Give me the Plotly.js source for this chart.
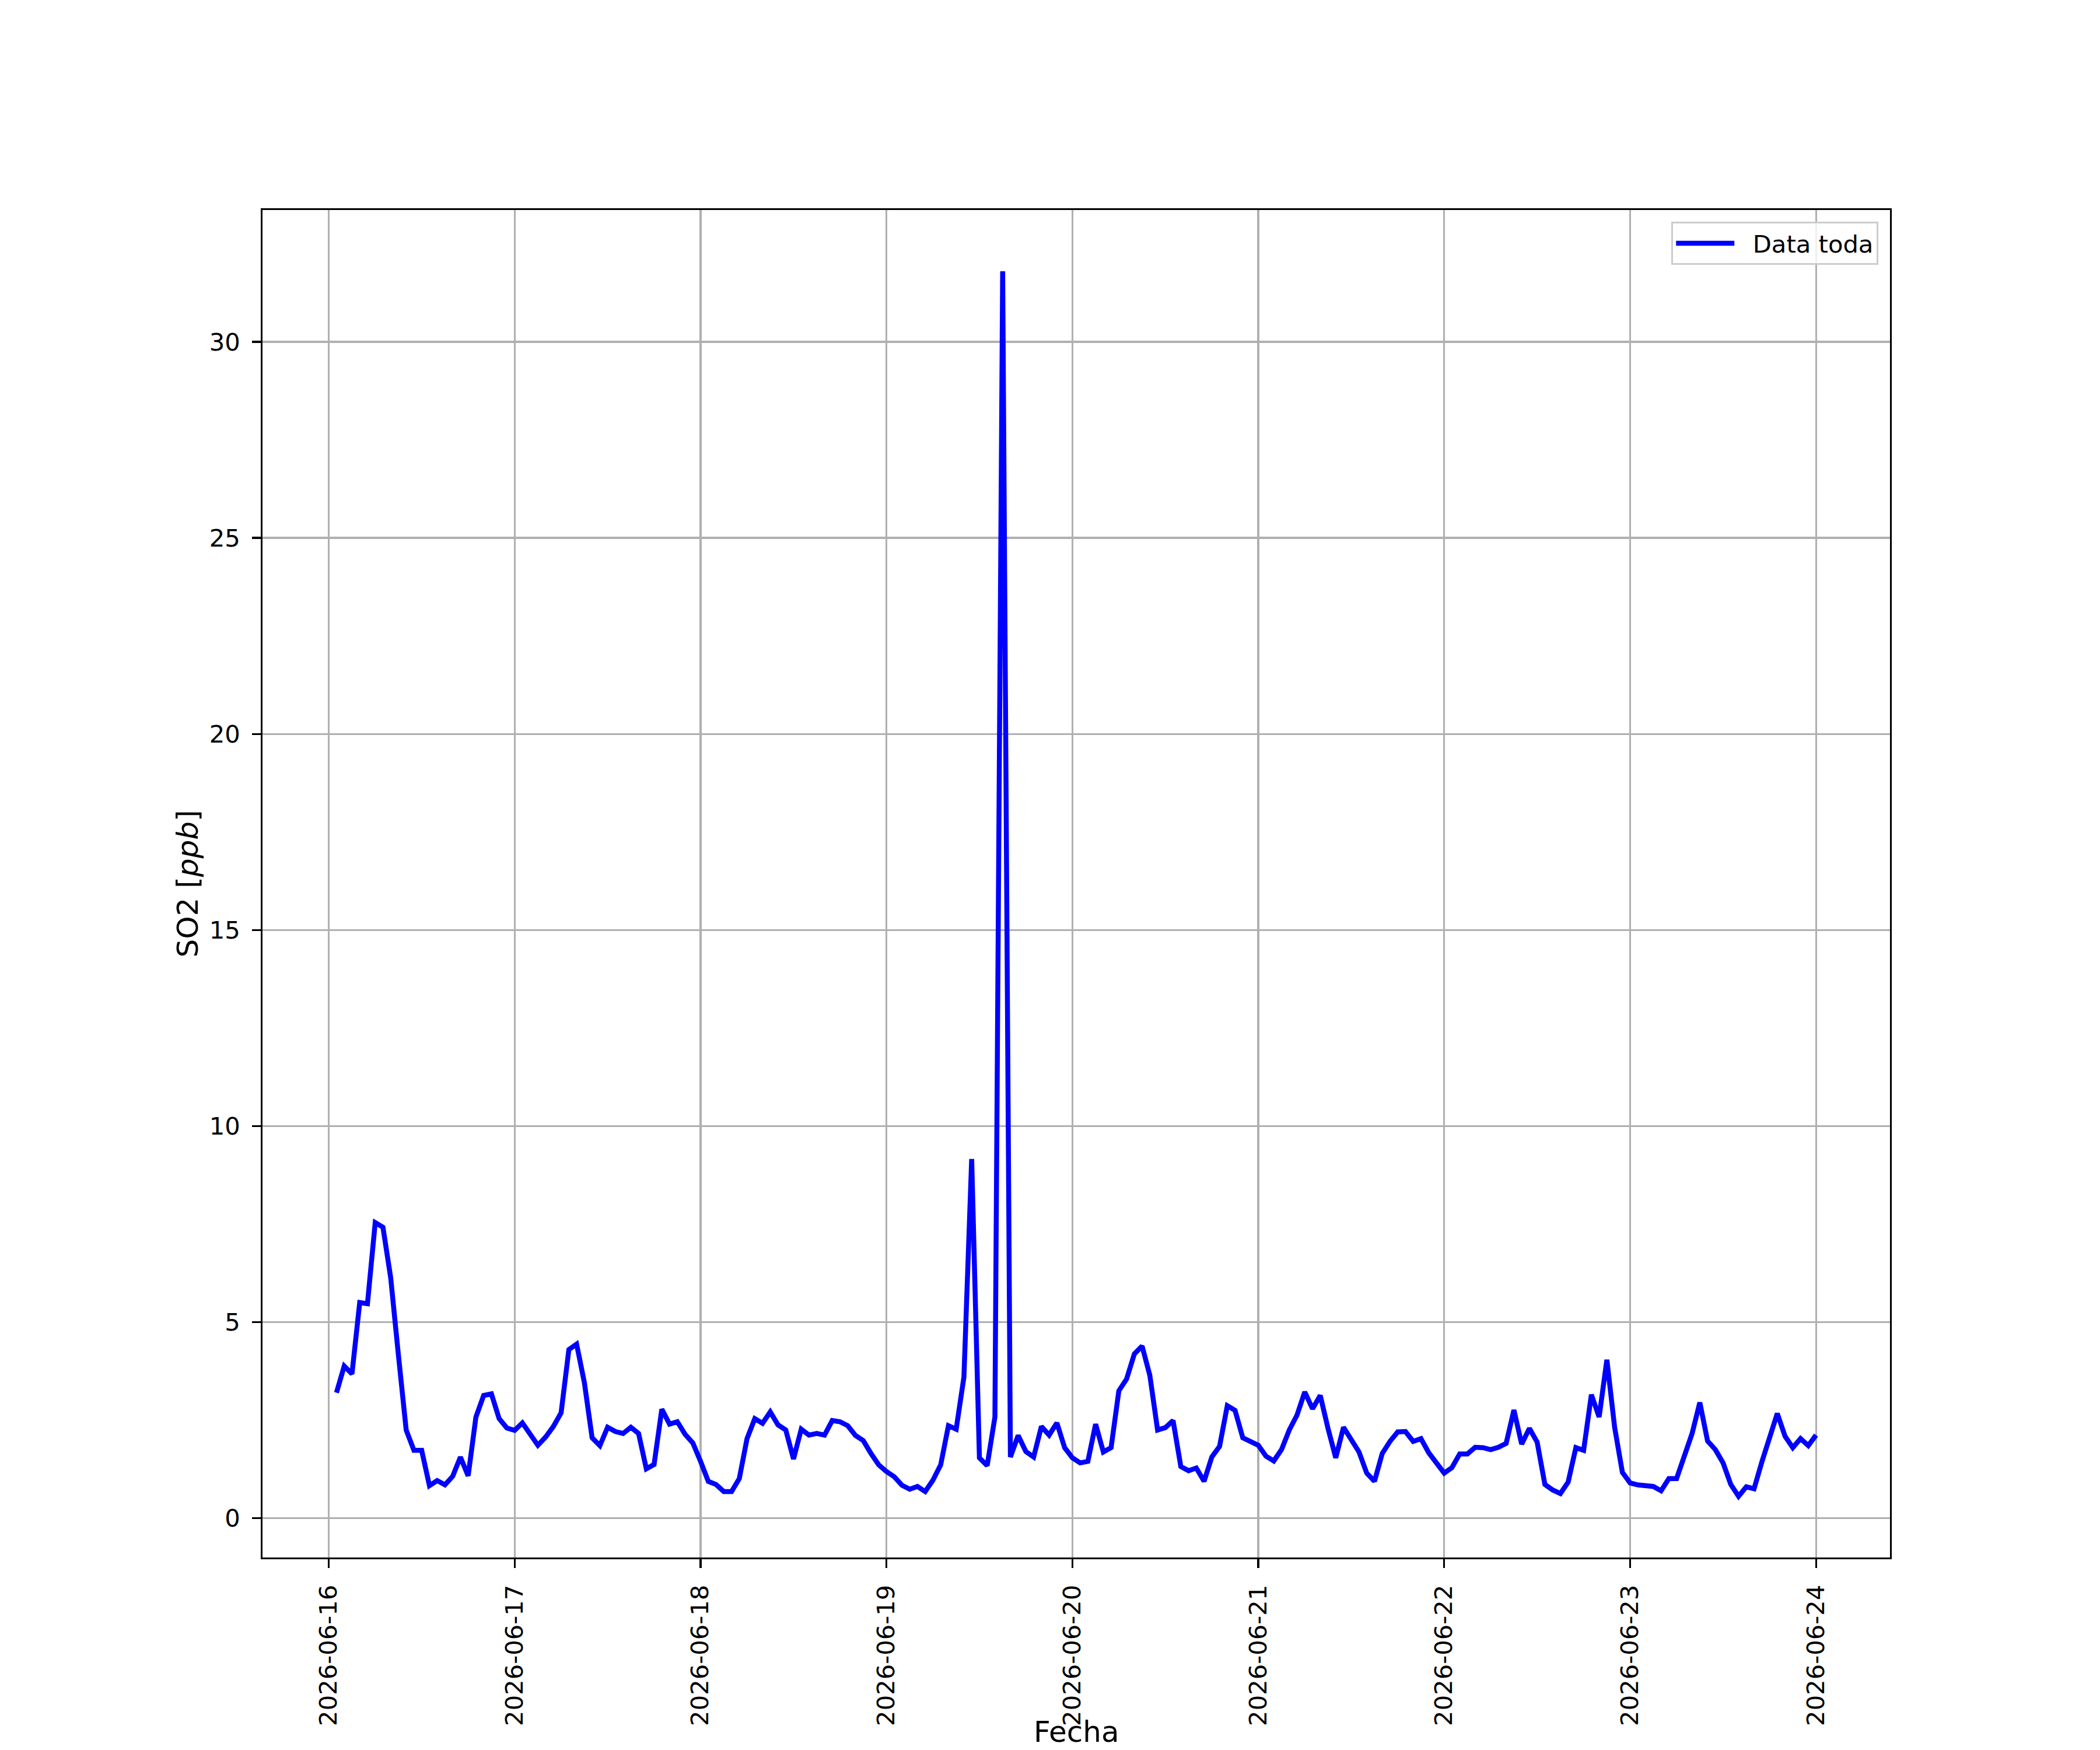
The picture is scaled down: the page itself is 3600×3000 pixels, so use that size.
<!DOCTYPE html>
<html>
<head>
<meta charset="utf-8">
<script src="https://cdn.plot.ly/plotly-3.0.1.min.js"></script>
<style>
  html, body { margin: 0; padding: 0; background: #ffffff; }
  #chart { width: 3600px; height: 3000px; }
</style>
</head>
<body>
<div id="chart"></div>
<script>
// ---- Data (hourly SO2 values, ppb) ----
const dayLabels = ['2026-06-16','2026-06-17','2026-06-18','2026-06-19','2026-06-20','2026-06-21','2026-06-22','2026-06-23','2026-06-24'];
const firstHour = 1;   // series starts 2026-06-16 01:00

const day16 = [3.20,3.88,3.68,5.50,5.47,7.54,7.42,6.13,4.15,2.25,1.73,1.73,0.83,0.96,0.85,1.07,1.56,1.08,2.58,3.13,3.17,2.54,2.30];
const day17 = [2.24,2.43,2.13,1.86,2.07,2.34,2.69,4.30,4.44,3.46,2.05,1.85,2.32,2.21,2.16,2.32,2.16,1.26,1.37,2.78,2.40,2.46,2.14,1.92];
const day18 = [1.45,0.94,0.86,0.68,0.68,1.01,2.03,2.54,2.42,2.71,2.38,2.25,1.51,2.27,2.12,2.16,2.12,2.49,2.46,2.36,2.11,1.98,1.65,1.36];
const day19 = [1.19,1.06,0.84,0.74,0.81,0.68,0.97,1.36,2.36,2.27,3.60,9.16,1.54,1.34,2.58,31.80,1.56,2.11,1.70,1.56,2.34,2.12,2.43,1.80];
const day20 = [1.54,1.41,1.45,2.40,1.69,1.80,3.25,3.55,4.19,4.39,3.64,2.25,2.31,2.49,1.32,1.21,1.28,0.94,1.56,1.83,2.87,2.75,2.05,1.94];
const day21 = [1.86,1.58,1.46,1.75,2.25,2.63,3.22,2.79,3.13,2.29,1.54,2.32,2.00,1.69,1.15,0.94,1.65,1.96,2.20,2.21,1.96,2.03,1.67,1.41];
const day22 = [1.15,1.29,1.64,1.64,1.81,1.80,1.75,1.81,1.91,2.76,1.89,2.29,1.94,0.86,0.72,0.63,0.92,1.80,1.73,3.15,2.58,4.04,2.32,1.17];
const day23 = [0.90,0.85,0.83,0.81,0.70,1.01,1.01,1.63,2.16,2.95,1.97,1.75,1.41,0.86,0.56,0.80,0.75,1.43,2.03,2.67,2.09,1.80,2.03,1.85];
const day24 = [2.12];

const seriesByDay = [day16, day17, day18, day19, day20, day21, day22, day23, day24];
const yTickVals = [0, 5, 10, 15, 20, 25, 30];
const seriesName = 'Data toda';
const xTitle = 'Fecha';
const yTitle = 'SO2 [<i>ppb</i>]';

// ---- Build x/y from the day arrays ----
function fmt(ms) { return new Date(ms).toISOString().replace('T', ' ').replace('Z', ''); }
const xs = [], ys = [], xms = [];
seriesByDay.forEach((vals, d) => {
  const base = Date.parse(dayLabels[d] + 'T00:00:00Z');
  const h0 = d === 0 ? firstHour : 0;
  vals.forEach((v, i) => {
    const t = base + (h0 + i) * 3600000;
    xms.push(t); xs.push(fmt(t)); ys.push(v);
  });
});

// matplotlib-like 5% autoscale margins
const xMin = Math.min(...xms), xMax = Math.max(...xms);
const xPad = 0.05 * (xMax - xMin);
const yMin = Math.min(...ys), yMax = Math.max(...ys);
const yPad = 0.05 * (yMax - yMin);

const FONT = 'DejaVu Sans, Liberation Sans, sans-serif';
const LW = 3.33;

const trace = {
  x: xs, y: ys, type: 'scatter', mode: 'lines',
  name: '\u00a0\u00a0' + seriesName,
  line: { color: '#0000ff', width: 8.5 },
  showlegend: true
};

const layout = {
  width: 3600, height: 3000,
  paper_bgcolor: '#ffffff', plot_bgcolor: '#ffffff',
  margin: { l: 450, r: 360, t: 360, b: 330, pad: 0 },
  font: { family: FONT, size: 41.7, color: '#000000' },
  showlegend: true,
  legend: {
    x: 0.9928, y: 0.9913, xanchor: 'right', yanchor: 'top',
    bgcolor: 'rgba(255,255,255,0.8)', bordercolor: '#cccccc', borderwidth: LW,
    font: { family: FONT, size: 41.7, color: '#000000' },
    itemwidth: 100, tracegroupgap: 0
  },
  xaxis: {
    type: 'date',
    range: [fmt(xMin - xPad), fmt(xMax + xPad)],
    tickmode: 'linear', tick0: dayLabels[0], dtick: 86400000,
    tickformat: '%Y-%m-%d', tickangle: -90,
    ticks: 'outside', ticklen: 14.6, tickwidth: LW, tickcolor: '#000000',
    ticklabelstandoff: 12,
    showline: true, linecolor: '#000000', linewidth: LW, mirror: true,
    showgrid: true, gridcolor: '#b0b0b0', gridwidth: LW,
    zeroline: false,
    tickfont: { family: FONT, size: 41.7, color: '#000000' },
    title: { text: '' },
    automargin: false
  },
  yaxis: {
    range: [yMin - yPad, yMax + yPad],
    tickmode: 'array', tickvals: yTickVals, ticktext: yTickVals.map(String),
    ticks: 'outside', ticklen: 14.6, tickwidth: LW, tickcolor: '#000000',
    ticklabelstandoff: 12,
    showline: true, linecolor: '#000000', linewidth: LW, mirror: true,
    showgrid: true, gridcolor: '#b0b0b0', gridwidth: LW,
    zeroline: false,
    tickfont: { family: FONT, size: 41.7, color: '#000000' },
    title: { text: yTitle, font: { family: FONT, size: 50, color: '#000000' }, standoff: 4 },
    automargin: false
  },
  annotations: [{
    // x-axis title placed like matplotlib's (below the rotated date labels, at the figure's bottom edge)
    text: xTitle, xref: 'paper', yref: 'paper', x: 0.5, y: -0.1423,
    xanchor: 'center', yanchor: 'bottom', showarrow: false, borderpad: 0,
    font: { family: FONT, size: 50, color: '#000000' }
  }]
};

Plotly.newPlot('chart', [trace], layout, { staticPlot: true, displayModeBar: false });
</script>
</body>
</html>
